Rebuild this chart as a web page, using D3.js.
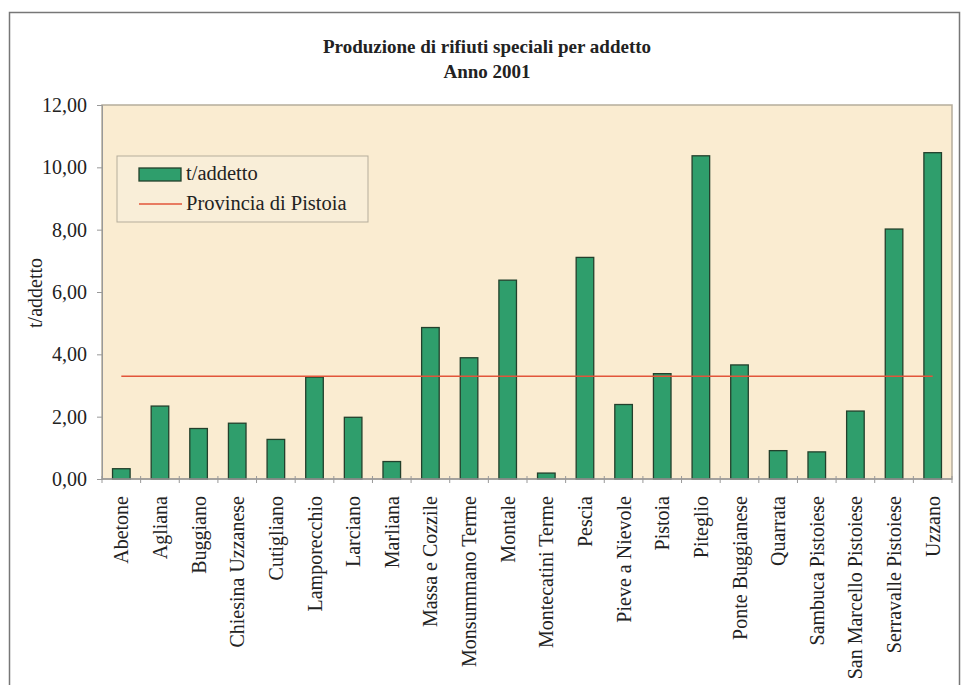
<!DOCTYPE html>
<html>
<head>
<meta charset="utf-8">
<script src="https://cdn.jsdelivr.net/npm/d3@7"></script>
<style>
  body { margin: 0; background: #fff; }
  text { font-family: "Liberation Serif", "DejaVu Serif", serif; fill: #222; }
</style>
</head>
<body>
<script>
// dati
var comuni = ["Abetone", "Agliana", "Buggiano", "Chiesina Uzzanese", "Cutigliano", "Lamporecchio",
  "Larciano", "Marliana", "Massa e Cozzile", "Monsummano Terme", "Montale", "Montecatini Terme",
  "Pescia", "Pieve a Nievole", "Pistoia", "Piteglio", "Ponte Buggianese", "Quarrata",
  "Sambuca Pistoiese", "San Marcello Pistoiese", "Serravalle Pistoiese", "Uzzano"];
var tAddetto = [0.33, 2.34, 1.62, 1.79, 1.27, 3.27, 1.98, 0.56, 4.86, 3.89, 6.38, 0.19,
  7.11, 2.39, 3.38, 10.37, 3.66, 0.91, 0.87, 2.18, 8.02, 10.47];
var provincia = 3.3;
var yTicks = [0, 2, 4, 6, 8, 10, 12];
var legenda = ["t/addetto", "Provincia di Pistoia"];

var width = 964, height = 685;
var svg = d3.select('body').append('svg').attr('width', width).attr('height', height);

// cornice esterna
svg.append('rect').attr('x', 9.5).attr('y', 12.5).attr('width', 950).attr('height', 700)
  .attr('fill', '#fff').attr('stroke', '#777').attr('stroke-width', 1.5);

var pLeft = 102, pRight = 952, pTop = 105, pBottom = 479;

var x = d3.scaleBand().domain(comuni).range([pLeft, pRight]).paddingInner(0.545).paddingOuter(0.2725);
var xb = d3.scaleBand().domain(comuni).range([pLeft, pRight]);
var y = d3.scaleLinear().domain([0, 12]).range([pBottom, pTop]);

// area del grafico
svg.append('rect').attr('x', pLeft).attr('y', pTop).attr('width', pRight - pLeft).attr('height', pBottom - pTop)
  .attr('fill', '#faecd1').attr('stroke', '#b5ad9c').attr('stroke-width', 1.5);

// titolo
svg.append('text').attr('x', 487).attr('y', 53).attr('text-anchor', 'middle')
  .attr('font-size', 19).attr('font-weight', 'bold').text('Produzione di rifiuti speciali per addetto');
svg.append('text').attr('x', 487).attr('y', 78).attr('text-anchor', 'middle')
  .attr('font-size', 19).attr('font-weight', 'bold').text('Anno 2001');

// asse y
var yAxis = d3.axisLeft(y).tickValues(yTicks).tickSize(5).tickPadding(10)
  .tickFormat(function(d){ return d3.format('.2f')(d).replace('.', ','); });
var gy = svg.append('g').attr('transform', 'translate(' + pLeft + ',0)').call(yAxis);
gy.select('.domain').attr('stroke', '#999');
gy.selectAll('.tick line').attr('stroke', '#999');
gy.selectAll('.tick text').attr('font-size', 20).attr('font-family', '"Liberation Serif", serif').attr('fill', '#333');

svg.append('text').attr('transform', 'translate(42,293) rotate(-90)').attr('text-anchor', 'middle')
  .attr('font-size', 20).text('t/addetto');

// barre
svg.selectAll('.bar').data(tAddetto).enter().append('rect')
  .attr('class', 'bar')
  .attr('x', function(d, i){ return x(comuni[i]); })
  .attr('y', function(d){ return y(d); })
  .attr('width', x.bandwidth())
  .attr('height', function(d){ return y(0) - y(d); })
  .attr('fill', '#2f9e6c').attr('stroke', '#23402c').attr('stroke-width', 1.3);

// asse x
var gx = svg.append('g').attr('transform', 'translate(0,' + pBottom + ')');
gx.append('line').attr('x1', pLeft).attr('x2', pRight).attr('stroke', '#999').attr('stroke-width', 1.5);
gx.selectAll('.tk').data(comuni.concat(['end'])).enter().append('line')
  .attr('x1', function(d, i){ return pLeft + i * xb.bandwidth(); })
  .attr('x2', function(d, i){ return pLeft + i * xb.bandwidth(); })
  .attr('y1', -3).attr('y2', 4).attr('stroke', '#999');
gx.selectAll('.lbl').data(comuni).enter().append('text')
  .attr('transform', function(d){ return 'translate(' + (xb(d) + xb.bandwidth() / 2 + 7) + ',17) rotate(-90)'; })
  .attr('text-anchor', 'end').attr('font-size', 20).text(function(d){ return d; });

// linea provincia
var linea = d3.line().x(function(d){ return xb(d) + xb.bandwidth() / 2; }).y(function(){ return y(provincia); });
svg.append('path').attr('d', linea(comuni)).attr('fill', 'none').attr('stroke', '#e2553a').attr('stroke-width', 1.5);

// legenda
var lg = svg.append('g');
lg.append('rect').attr('x', 117).attr('y', 156).attr('width', 251).attr('height', 66)
  .attr('fill', '#f9eed8').attr('stroke', '#b5ad9c').attr('stroke-width', 1);
lg.append('rect').attr('x', 139).attr('y', 168).attr('width', 42).attr('height', 13)
  .attr('fill', '#2f9e6c').attr('stroke', '#23402c').attr('stroke-width', 1.3);
lg.append('line').attr('x1', 139).attr('x2', 182).attr('y1', 204).attr('y2', 204)
  .attr('stroke', '#e2553a').attr('stroke-width', 1.5);
lg.selectAll('.lt').data(legenda).enter().append('text')
  .attr('x', 186).attr('y', function(d, i){ return 180 + i * 30; })
  .attr('font-size', 20.5).text(function(d){ return d; });
</script>
</body>
</html>
